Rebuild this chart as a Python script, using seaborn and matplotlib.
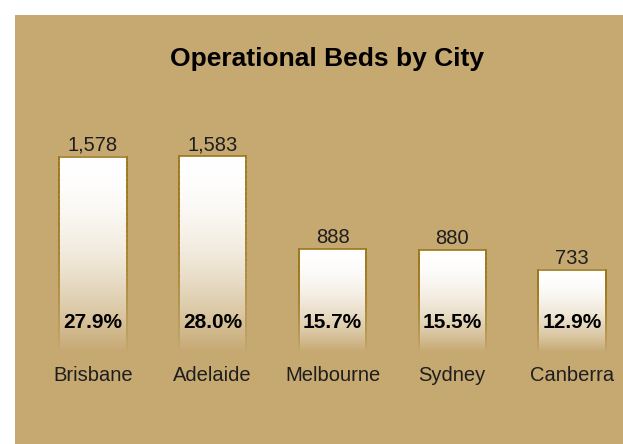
import numpy as np
import pandas as pd
import matplotlib
matplotlib.use("Agg")
import matplotlib.pyplot as plt
import matplotlib.transforms as mtransforms
from matplotlib.collections import LineCollection
from matplotlib.colors import to_rgb
import seaborn as sns

# ---- data ----
cities = ["Brisbane", "Adelaide", "Melbourne", "Sydney", "Canberra"]
beds = [1578, 1583, 888, 880, 733]
value_labels = ["1,578", "1,583", "888", "880", "733"]
share_labels = ["27.9%", "28.0%", "15.7%", "15.5%", "12.9%"]
title = "Operational Beds by City"

# ---- style ----
BG = "#C6A871"
EDGE = "#9C7618"
TXT = "#1e1e1e"

sns.set_style("white")
plt.rcParams["font.family"] = ["Liberation Sans", "DejaVu Sans"]

W, H, DPI = 623, 444, 100
fig = plt.figure(figsize=(W / DPI, H / DPI), dpi=DPI, facecolor="white")
margin = 15
ax = fig.add_axes([margin / W, 0, (W - margin) / W, (H - margin) / H])
ax.set_facecolor(BG)

df = pd.DataFrame({"city": cities, "beds": beds})
sns.barplot(data=df, x="city", y="beds", ax=ax, width=0.56, color=BG,
            edgecolor="none", linewidth=0, errorbar=None, saturation=1)

ax.set_xlim(-0.6514, 4.4259)
ax.set_ylim(-567.6, 2636.2)
for s in ax.spines.values():
    s.set_visible(False)
ax.set_xticks([])
ax.set_yticks([])
ax.set_xlabel("")
ax.set_ylabel("")

bg = np.array(to_rgb(BG))
edge = np.array(to_rgb(EDGE))
white = np.ones(3)
FADE = 120.0   # data value where the bar has faded into the background
GAMMA = 2.0

for p in list(ax.patches):
    x0, w, h = p.get_x(), p.get_width(), p.get_height()
    p.set_alpha(0)
    n = 200
    ys = np.linspace(FADE, h, n)
    t = ((h - ys) / (h - FADE)) ** GAMMA
    cols = white[None, :] * (1 - t[:, None]) + bg[None, :] * t[:, None]
    img = cols[:, None, :]
    ax.imshow(img, extent=(x0, x0 + w, FADE, h), origin="lower",
              aspect="auto", interpolation="bilinear", zorder=2)
    # borders fading downward
    segs, cs = [], []
    m = 80
    yy = np.linspace(h, FADE, m + 1)
    for i in range(m):
        tt = ((h - 0.5 * (yy[i] + yy[i + 1])) / (h - FADE)) ** GAMMA
        c = edge * (1 - tt) + bg * tt
        for xx in (x0, x0 + w):
            segs.append([(xx, yy[i]), (xx, yy[i + 1])])
            cs.append(c)
    segs.append([(x0, h), (x0 + w, h)])
    cs.append(edge)
    ax.add_collection(LineCollection(segs, colors=cs, linewidths=1.2,
                                     zorder=3, capstyle="projecting"))

centers = [p.get_x() + p.get_width() / 2 for p in ax.patches]
heights = [p.get_height() for p in ax.patches]

trans = mtransforms.blended_transform_factory(ax.transData, ax.transAxes)
for cx, h, vl, sl, city in zip(centers, heights, value_labels, share_labels, cities):
    ax.annotate(vl, xy=(cx, h), xytext=(0, 4.3), textcoords="offset points",
                ha="center", va="baseline", fontsize=14.5, color=TXT, zorder=4)
    ax.text(cx, 0.2704, sl, transform=trans, ha="center", va="baseline",
            fontsize=15, fontweight="bold", color="black", zorder=4)
    ax.text(cx, 0.1457, city, transform=trans, ha="center", va="baseline",
            fontsize=14.5, color=TXT, zorder=4)

fig.text(326.5 / W, 1 - 66 / H, title, ha="center", va="baseline",
         fontsize=19, fontweight="bold", color="black")

fig.savefig("out.png", dpi=DPI, facecolor="white")
